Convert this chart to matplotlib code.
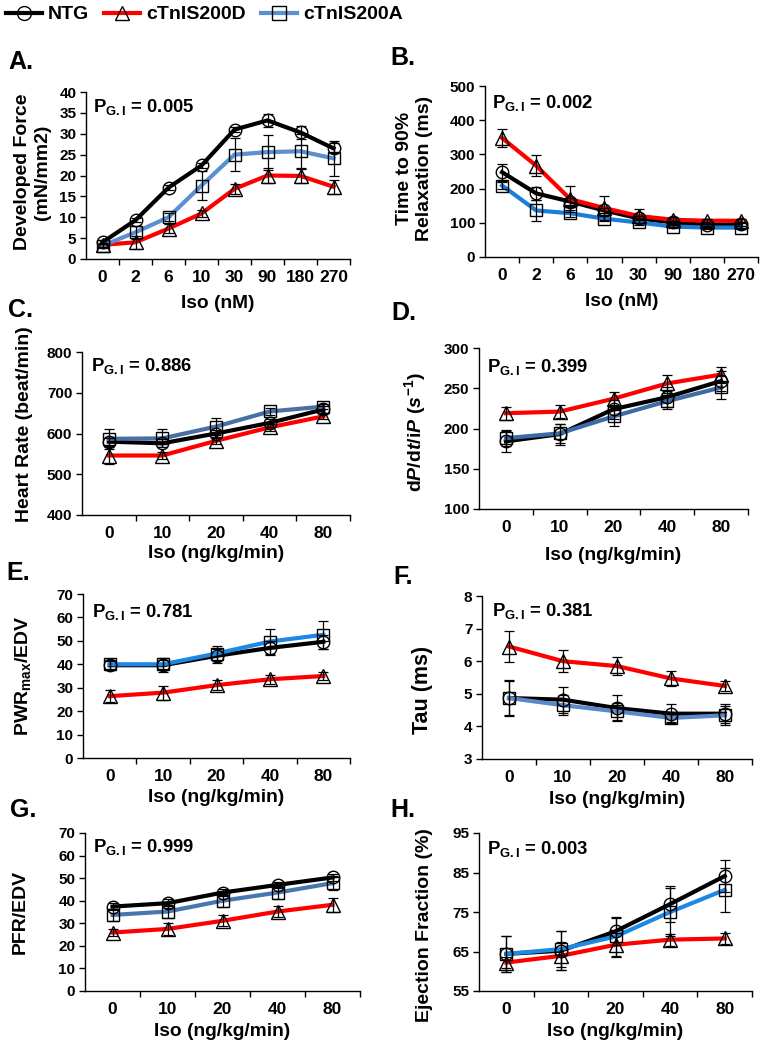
import matplotlib
matplotlib.use('Agg')
import matplotlib.pyplot as plt
from matplotlib.lines import Line2D

plt.rcParams['font.family'] = ['Liberation Sans', 'DejaVu Sans']
plt.rcParams['font.weight'] = 'bold'
plt.rcParams['mathtext.fontset'] = 'custom'
plt.rcParams['mathtext.rm'] = 'Liberation Sans:bold'
plt.rcParams['mathtext.it'] = 'Liberation Sans:bold:italic'
plt.rcParams['mathtext.bf'] = 'Liberation Sans:bold'

W, H = 765, 1050

groups = ['NTG', 'cTnIS200D', 'cTnIS200A']
x_nm = ['0', '2', '6', '10', '30', '90', '180', '270']
x_ng = ['0', '10', '20', '40', '80']

# A. developed force
force_ntg = [4.0, 9.3, 17.1, 22.4, 31.0, 33.2, 30.3, 26.5]
force_ntg_err = [0.5, 0.5, 0.6, 0.6, 0.6, 1.5, 1.5, 1.2]
force_d = [3.4, 4.0, 7.3, 10.9, 16.8, 20.0, 19.9, 17.3]
force_d_err = [0.5, 1.5, 1.0, 0.8, 1.2, 1.8, 1.8, 1.7]
force_a = [3.2, 6.4, 10.0, 17.6, 25.0, 25.6, 25.8, 24.1]
force_a_err = [0.5, 1.5, 1.0, 3.5, 4.0, 4.2, 4.2, 4.2]

# B. time to 90% relaxation
rel_ntg = [248, 186, 162, 136, 113, 101, 94, 96]
rel_ntg_err = [25, 20, 10, 8, 6, 5, 5, 5]
rel_d = [348, 267, 169, 143, 120, 109, 106, 106]
rel_d_err = [25, 30, 38, 35, 20, 8, 6, 6]
rel_a = [209, 136, 128, 112, 101, 89, 86, 86]
rel_a_err = [10, 30, 10, 8, 6, 5, 5, 5]

# C. heart rate
hr_ntg = [580, 576, 600, 626, 659]
hr_ntg_err = [10, 10, 8, 10, 8]
hr_d = [546, 546, 582, 615, 642]
hr_d_err = [20, 8, 8, 8, 6]
hr_a = [587, 588, 617, 654, 666]
hr_a_err = [25, 22, 20, 8, 6]

# D. dP/dt/iP
dp_ntg = [184, 193, 224, 239, 259]
dp_ntg_err = [13, 13, 12, 12, 12]
dp_d = [219, 221, 237, 256, 267]
dp_d_err = [8, 8, 8, 10, 10]
dp_a = [188, 194, 215, 234, 251]
dp_a_err = [10, 12, 12, 10, 14]

# E. PWRmax/EDV
pwr_ntg = [39.6, 39.6, 43.6, 47.0, 49.6]
pwr_ntg_err = [2, 3, 3, 3, 3]
pwr_d = [26.4, 27.9, 31.1, 33.6, 35.0]
pwr_d_err = [2.5, 3, 2, 2, 1.5]
pwr_a = [40.0, 40.0, 44.6, 49.7, 52.6]
pwr_a_err = [2, 2, 3, 5.5, 6]

# F. Tau
tau_ntg = [4.87, 4.82, 4.56, 4.39, 4.39]
tau_ntg_err = [0.52, 0.4, 0.4, 0.3, 0.3]
tau_d = [6.45, 6.0, 5.85, 5.47, 5.24]
tau_d_err = [0.47, 0.33, 0.28, 0.22, 0.15]
tau_a = [4.87, 4.65, 4.46, 4.26, 4.34]
tau_a_err = [0.55, 0.3, 0.25, 0.12, 0.3]

# G. PFR/EDV
pfr_ntg = [37.4, 38.9, 43.6, 47.0, 50.3]
pfr_ntg_err = [1.5, 2, 1.5, 1.5, 1.5]
pfr_d = [25.9, 27.5, 31.1, 35.2, 38.2]
pfr_d_err = [1.5, 2.5, 2.5, 2.5, 3]
pfr_a = [33.7, 35.2, 40.0, 43.6, 47.8]
pfr_a_err = [2.5, 3, 3, 3, 3]

# H. ejection fraction
ef_ntg = [64.4, 65.2, 70.1, 77.0, 84.1]
ef_ntg_err = [4.5, 5, 3.5, 4.5, 4]
ef_d = [62.2, 63.9, 66.7, 68.0, 68.3]
ef_d_err = [1.5, 3.5, 3, 1.5, 1.5]
ef_a = [64.4, 65.6, 68.8, 75.0, 80.6]
ef_a_err = [4.5, 4.5, 5, 6, 5.5]

pvals = ['0.005', '0.002', '0.886', '0.399', '0.781', '0.381', '0.999', '0.003']

markers = ['o', '^', 's']
red = '#FF0000'

fig = plt.figure(figsize=(W / 100, H / 100), dpi=100)


def ax_px(l, r, t, b):
    return fig.add_axes([l / W, 1 - b / H, (r - l) / W, (b - t) / H])


def panel(box, cats, series, errs, blue, ylim, ystep, letter, letter_xy,
          ylabel, ylab_xy, xlabel, xlab_y, pval, p_off, ylab_fs=14):
    l, r, t, b = box
    ax = ax_px(l, r, t, b)
    x = list(range(len(cats)))
    colors = ['black', red, blue]
    for i in range(3):
        ax.plot(x, series[i], color=colors[i], lw=3, zorder=2 + i * 0.1)
        ax.errorbar(x, series[i], yerr=errs[i], fmt='none', ecolor='black',
                    elinewidth=0.9, capsize=3.5, capthick=0.9, zorder=3)
        ax.plot(x, series[i], ls='none', marker=markers[i], mfc='none',
                mec='black', mew=1.0, ms=9 if i != 1 else 9.5, zorder=4)
    ax.set_xlim(-0.5, len(cats) - 0.5)
    ax.set_ylim(*ylim)
    yt = []
    v = ylim[0]
    while v <= ylim[1] + 1e-9:
        yt.append(v)
        v += ystep
    ax.set_yticks(yt)
    ax.set_yticklabels([('%g' % v) for v in yt], fontsize=11, fontweight='bold')
    ax.set_xticks(x)
    ax.set_xticklabels(cats, fontsize=12.5, fontweight='bold')
    ax.set_xticks([k + 0.5 for k in range(len(cats))], minor=True)
    ax.tick_params(axis='x', which='major', length=0, pad=8)
    ax.tick_params(axis='x', which='minor', length=4, direction='out', width=1)
    ax.tick_params(axis='y', length=4, direction='out', width=1, pad=3)
    for s in ['top', 'right']:
        ax.spines[s].set_visible(False)
    for s in ['left', 'bottom']:
        ax.spines[s].set_linewidth(1)
    ax.annotate(r'P$_{\mathrm{G.I}}$ = ' + pval, xy=(0, 1), xycoords='axes fraction',
                xytext=(p_off[0] * 0.72, -p_off[1] * 0.72), textcoords='offset points',
                ha='left', va='center', fontsize=13.3, fontweight='bold')
    fig.text(letter_xy[0] / W, 1 - letter_xy[1] / H, letter, fontsize=18,
             fontweight='bold', ha='left', va='center')
    fig.text(ylab_xy[0] / W, 1 - ylab_xy[1] / H, ylabel, rotation=90, fontsize=ylab_fs,
             fontweight='bold', ha='right', va='center', multialignment='center')
    fig.text((l + r) / 2 / W, 1 - xlab_y / H, xlabel, fontsize=13.8,
             fontweight='bold', ha='center', va='center')
    return ax


panel((86, 350, 92, 259), x_nm, [force_ntg, force_d, force_a],
      [force_ntg_err, force_d_err, force_a_err], '#5B8FD0', (0, 40), 5,
      'A.', (8, 62), 'Developed Force\n(mN/mm2)', (51, 172), 'Iso (nM)', 303,
      pvals[0], (7, 15))
panel((485, 758, 86, 257), x_nm, [rel_ntg, rel_d, rel_a],
      [rel_ntg_err, rel_d_err, rel_a_err], '#1B7ED6', (0, 500), 100,
      'B.', (390, 58), 'Time to 90%\nRelaxation (ms)', (433, 168), 'Iso (nM)', 302,
      pvals[1], (7, 17))
panel((82, 350, 352, 515), x_ng, [hr_ntg, hr_d, hr_a],
      [hr_ntg_err, hr_d_err, hr_a_err], '#4A6FA5', (400, 800), 100,
      'C.', (8, 310), 'Heart Rate (beat/min)', (33, 424), 'Iso (ng/kg/min)', 553,
      pvals[2], (9, 14))
panel((479, 748, 348, 509), x_ng, [dp_ntg, dp_d, dp_a],
      [dp_ntg_err, dp_d_err, dp_a_err], '#3D6BA8', (100, 300), 50,
      'D.', (391, 313), r'd$P$/d$t$/i$P$ ($s^{-1}$)', (428, 432), 'Iso (ng/kg/min)', 555,
      pvals[3], (8, 19))
panel((83, 350, 594, 758), x_ng, [pwr_ntg, pwr_d, pwr_a],
      [pwr_ntg_err, pwr_d_err, pwr_a_err], '#1E88E5', (0, 70), 10,
      'E.', (6, 573), r'PWR$_{\mathrm{max}}$/EDV', (33, 676), 'Iso (ng/kg/min)', 798,
      pvals[4], (9, 18))
panel((482, 752, 596, 759), x_ng, [tau_ntg, tau_d, tau_a],
      [tau_ntg_err, tau_d_err, tau_a_err], '#5B88C8', (3, 8), 1,
      'F.', (393, 577), 'Tau (ms)', (433, 690), 'Iso (ng/kg/min)', 800,
      pvals[5], (10, 15), ylab_fs=15.5)
panel((85, 360, 833, 991), x_ng, [pfr_ntg, pfr_d, pfr_a],
      [pfr_ntg_err, pfr_d_err, pfr_a_err], '#4A76AE', (0, 70), 10,
      'G.', (10, 810), 'PFR/EDV', (29, 912), 'Iso (ng/kg/min)', 1032,
      pvals[6], (8, 14))
panel((479, 752, 833, 991), x_ng, [ef_ntg, ef_d, ef_a],
      [ef_ntg_err, ef_d_err, ef_a_err], '#1E88E5', (55, 95), 10,
      'H.', (390, 810), 'Ejection Fraction (%)', (433, 925), 'Iso (ng/kg/min)', 1032,
      pvals[7], (8, 16))

handles = [
    Line2D([], [], color='black', lw=3, marker='o', mfc='none', mec='black', ms=10),
    Line2D([], [], color=red, lw=3, marker='^', mfc='none', mec='black', ms=10),
    Line2D([], [], color='#5B8FD0', lw=3, marker='s', mfc='none', mec='black', ms=10),
]
fig.legend(handles, groups, loc='upper left', bbox_to_anchor=(0.0, 1.0), ncol=3,
           frameon=False, handlelength=1.85, handletextpad=0.3,
           columnspacing=0.8, borderaxespad=0.1, borderpad=0.2,
           prop={'weight': 'bold', 'size': 14})

fig.savefig('out.png', dpi=100)
